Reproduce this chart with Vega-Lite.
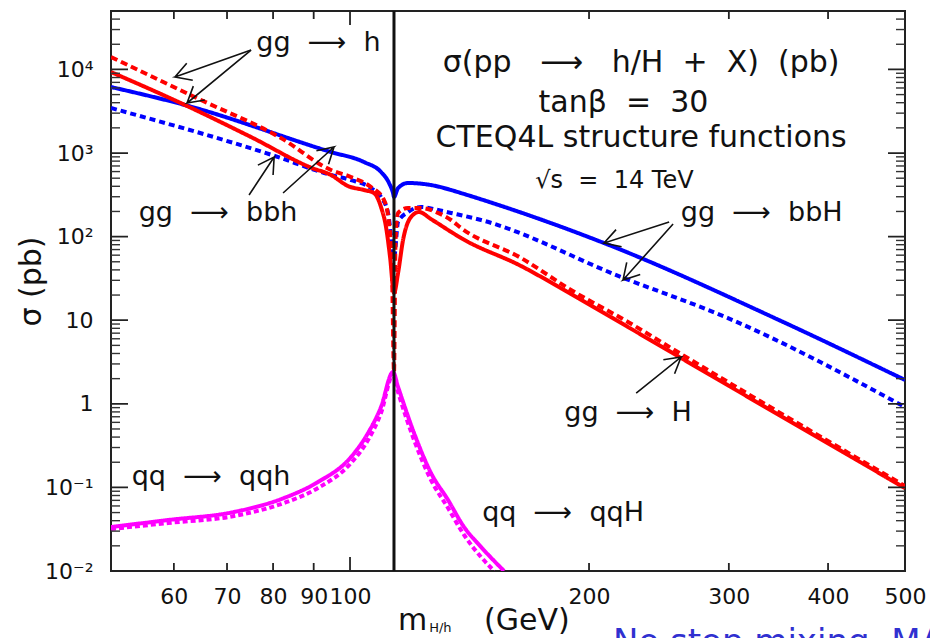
{
  "$schema": "https://vega.github.io/schema/vega-lite/v6.json",
  "width": 794,
  "height": 560,
  "autosize": "none",
  "padding": {"left": 111, "top": 11, "right": 25, "bottom": 67},
  "background": "white",
  "config": {
    "view": {"stroke": "#222", "strokeWidth": 2},
    "axis": {"domain": false, "grid": false, "ticks": false, "labelFont": "DejaVu Sans", "labelColor": "#111"}
  },
  "datasets": {
    "curves": [
      {"s": "a", "x": 50, "y": 3454}, {"s": "a", "x": 79.75, "y": 946}, {"s": "a", "x": 94.64, "y": 546}, {"s": "a", "x": 100.29, "y": 475}, {"s": "a", "x": 106.28, "y": 381}, {"s": "a", "x": 109.4, "y": 298}, {"s": "a", "x": 111.66, "y": 192}, {"s": "a", "x": 113.29, "y": 63.7}, {"s": "a", "x": 113.61, "y": 55.5}, {"s": "a", "x": 114.95, "y": 150}, {"s": "a", "x": 118.32, "y": 197}, {"s": "a", "x": 122.87, "y": 226}, {"s": "a", "x": 129.08, "y": 208}, {"s": "a", "x": 134.04, "y": 192}, {"s": "a", "x": 146.23, "y": 158}, {"s": "a", "x": 219.45, "y": 32.9}, {"s": "a", "x": 299.24, "y": 10.6}, {"s": "a", "x": 500, "y": 0.915},
      {"s": "b", "x": 50, "y": 6160}, {"s": "b", "x": 61.97, "y": 3752}, {"s": "b", "x": 94.64, "y": 1028}, {"s": "b", "x": 104.14, "y": 780}, {"s": "b", "x": 109.4, "y": 593}, {"s": "b", "x": 111.98, "y": 438}, {"s": "b", "x": 113.29, "y": 332}, {"s": "b", "x": 113.61, "y": 298}, {"s": "b", "x": 114.95, "y": 381}, {"s": "b", "x": 118.32, "y": 438}, {"s": "b", "x": 126.48, "y": 414}, {"s": "b", "x": 134.04, "y": 361}, {"s": "b", "x": 137.99, "y": 332}, {"s": "b", "x": 208.88, "y": 83.8}, {"s": "b", "x": 349.06, "y": 9.78}, {"s": "b", "x": 500, "y": 1.93},
      {"s": "c", "x": 50, "y": 14070}, {"s": "c", "x": 64.92, "y": 4306}, {"s": "c", "x": 81.86, "y": 1511}, {"s": "c", "x": 94.64, "y": 626}, {"s": "c", "x": 100.29, "y": 516}, {"s": "c", "x": 106.28, "y": 392}, {"s": "c", "x": 110.37, "y": 274}, {"s": "c", "x": 111.98, "y": 145}, {"s": "c", "x": 112.96, "y": 36.7}, {"s": "c", "x": 113.61, "y": 2.4}, {"s": "c", "x": 114.11, "y": 91}, {"s": "c", "x": 114.95, "y": 192}, {"s": "c", "x": 118.32, "y": 220}, {"s": "c", "x": 122.87, "y": 220}, {"s": "c", "x": 129.08, "y": 192}, {"s": "c", "x": 134.04, "y": 158}, {"s": "c", "x": 137.99, "y": 127}, {"s": "c", "x": 164.24, "y": 55.5}, {"s": "c", "x": 189.8, "y": 23.0}, {"s": "c", "x": 223.94, "y": 9.52}, {"s": "c", "x": 261.19, "y": 3.94}, {"s": "c", "x": 500, "y": 0.1039},
      {"s": "d", "x": 50, "y": 9310}, {"s": "d", "x": 61.97, "y": 3752}, {"s": "d", "x": 75.04, "y": 1554}, {"s": "d", "x": 89.57, "y": 662}, {"s": "d", "x": 94.64, "y": 546}, {"s": "d", "x": 99.42, "y": 403}, {"s": "d", "x": 104.14, "y": 361}, {"s": "d", "x": 107.21, "y": 332}, {"s": "d", "x": 109.4, "y": 226}, {"s": "d", "x": 111.01, "y": 130}, {"s": "d", "x": 112.31, "y": 57}, {"s": "d", "x": 113.61, "y": 21.2}, {"s": "d", "x": 114.95, "y": 36.7}, {"s": "d", "x": 116.62, "y": 91}, {"s": "d", "x": 119.36, "y": 172}, {"s": "d", "x": 122.16, "y": 197}, {"s": "d", "x": 126.48, "y": 162}, {"s": "d", "x": 134.04, "y": 114}, {"s": "d", "x": 137.99, "y": 96.2}, {"s": "d", "x": 164.24, "y": 44.5}, {"s": "d", "x": 189.8, "y": 20.6}, {"s": "d", "x": 223.94, "y": 8.29}, {"s": "d", "x": 261.19, "y": 3.53}, {"s": "d", "x": 500, "y": 0.0983},
      {"s": "e", "x": 50, "y": 0.0318}, {"s": "e", "x": 58.99, "y": 0.0375}, {"s": "e", "x": 71.43, "y": 0.0455}, {"s": "e", "x": 82.58, "y": 0.0651}, {"s": "e", "x": 91.13, "y": 0.0983}, {"s": "e", "x": 100.29, "y": 0.196}, {"s": "e", "x": 105.36, "y": 0.369}, {"s": "e", "x": 109.4, "y": 0.776}, {"s": "e", "x": 113.29, "y": 2.21}, {"s": "e", "x": 114.95, "y": 1.38}, {"s": "e", "x": 120.4, "y": 0.369}, {"s": "e", "x": 126.48, "y": 0.1226}, {"s": "e", "x": 132.88, "y": 0.0567}, {"s": "e", "x": 139.19, "y": 0.027}, {"s": "e", "x": 146.23, "y": 0.0147}, {"s": "e", "x": 151.85, "y": 0.01},
      {"s": "f", "x": 50, "y": 0.0336}, {"s": "f", "x": 58.99, "y": 0.0407}, {"s": "f", "x": 71.43, "y": 0.0508}, {"s": "f", "x": 82.58, "y": 0.0747}, {"s": "f", "x": 91.13, "y": 0.116}, {"s": "f", "x": 100.29, "y": 0.231}, {"s": "f", "x": 105.36, "y": 0.447}, {"s": "f", "x": 109.4, "y": 0.915}, {"s": "f", "x": 113.29, "y": 2.4}, {"s": "f", "x": 114.95, "y": 1.59}, {"s": "f", "x": 120.4, "y": 0.447}, {"s": "f", "x": 126.48, "y": 0.1487}, {"s": "f", "x": 132.88, "y": 0.0707}, {"s": "f", "x": 139.19, "y": 0.0336}, {"s": "f", "x": 146.23, "y": 0.0194}, {"s": "f", "x": 156.32, "y": 0.01}
    ],
    "arrows": [
      {"id": 1, "k": 0, "x": 75.05, "y": 17060}, {"id": 1, "k": 1, "x": 60.19, "y": 8110}, {"id": 1, "k": 2, "x": 63.38, "y": 7413}, {"id": 1, "k": 3, "x": 60.19, "y": 8110}, {"id": 1, "k": 4, "x": 62.28, "y": 11830},
      {"id": 2, "k": 0, "x": 75.05, "y": 17060}, {"id": 2, "k": 1, "x": 62.34, "y": 3963}, {"id": 2, "k": 2, "x": 65.64, "y": 4305}, {"id": 2, "k": 3, "x": 62.34, "y": 3963}, {"id": 2, "k": 4, "x": 63.48, "y": 6310},
      {"id": 3, "k": 0, "x": 74.62, "y": 314.6}, {"id": 3, "k": 1, "x": 80.25, "y": 895}, {"id": 3, "k": 2, "x": 76.56, "y": 716}, {"id": 3, "k": 3, "x": 80.25, "y": 895}, {"id": 3, "k": 4, "x": 80.0, "y": 545},
      {"id": 4, "k": 0, "x": 82.35, "y": 332.5}, {"id": 4, "k": 1, "x": 95.46, "y": 1180}, {"id": 4, "k": 2, "x": 90.72, "y": 1062}, {"id": 4, "k": 3, "x": 95.46, "y": 1180}, {"id": 4, "k": 4, "x": 93.96, "y": 736},
      {"id": 5, "k": 0, "x": 252.3, "y": 149.6}, {"id": 5, "k": 1, "x": 208.9, "y": 83.8}, {"id": 5, "k": 2, "x": 219.8, "y": 75.5}, {"id": 5, "k": 3, "x": 208.9, "y": 83.8}, {"id": 5, "k": 4, "x": 216.3, "y": 121.3},
      {"id": 6, "k": 0, "x": 255.2, "y": 141.5}, {"id": 6, "k": 1, "x": 220.7, "y": 30.27}, {"id": 6, "k": 2, "x": 232.0, "y": 35.3}, {"id": 6, "k": 3, "x": 220.7, "y": 30.27}, {"id": 6, "k": 4, "x": 223.1, "y": 49.1},
      {"id": 7, "k": 0, "x": 229.3, "y": 1.346}, {"id": 7, "k": 1, "x": 261.2, "y": 3.63}, {"id": 7, "k": 2, "x": 248.1, "y": 3.37}, {"id": 7, "k": 3, "x": 261.2, "y": 3.63}, {"id": 7, "k": 4, "x": 256.3, "y": 2.285}
    ],
    "ann": [
      {"t": "gg\u00a0 ⟶\u00a0 h", "x": 91.27, "y": 20700},
      {"t": "gg\u00a0 ⟶\u00a0 bbh", "x": 68.21, "y": 191.5},
      {"t": "gg\u00a0 ⟶\u00a0 bbH", "x": 330, "y": 191.5},
      {"t": "gg\u00a0 ⟶\u00a0 H", "x": 224, "y": 0.776},
      {"t": "qq\u00a0 ⟶\u00a0 qqh", "x": 66.83, "y": 0.1331},
      {"t": "qq\u00a0 ⟶\u00a0 qqH", "x": 185.5, "y": 0.04943}
    ],
    "info": [
      {"t": "σ(pp\u00a0\u00a0 ⟶\u00a0\u00a0 h/H\u00a0 +\u00a0 X)\u00a0 (pb)", "x": 232.6, "y": 11930},
      {"t": "tanβ\u00a0 =\u00a0 30", "x": 221.0, "y": 3963},
      {"t": "CTEQ4L structure functions", "x": 232.6, "y": 1510}
    ],
    "ymaj": [{"v": 0.01}, {"v": 0.1}, {"v": 1}, {"v": 10}, {"v": 100}, {"v": 1000}, {"v": 10000}],
    "ymin": [{"v": 0.02}, {"v": 0.03}, {"v": 0.04}, {"v": 0.05}, {"v": 0.06}, {"v": 0.07}, {"v": 0.08}, {"v": 0.09}, {"v": 0.2}, {"v": 0.3}, {"v": 0.4}, {"v": 0.5}, {"v": 0.6}, {"v": 0.7}, {"v": 0.8}, {"v": 0.9}, {"v": 2}, {"v": 3}, {"v": 4}, {"v": 5}, {"v": 6}, {"v": 7}, {"v": 8}, {"v": 9}, {"v": 20}, {"v": 30}, {"v": 40}, {"v": 50}, {"v": 60}, {"v": 70}, {"v": 80}, {"v": 90}, {"v": 200}, {"v": 300}, {"v": 400}, {"v": 500}, {"v": 600}, {"v": 700}, {"v": 800}, {"v": 900}, {"v": 2000}, {"v": 3000}, {"v": 4000}, {"v": 5000}, {"v": 6000}, {"v": 7000}, {"v": 8000}, {"v": 9000}, {"v": 20000}, {"v": 30000}, {"v": 40000}],
    "xshort": [{"v": 60}, {"v": 70}, {"v": 80}, {"v": 90}, {"v": 200}, {"v": 300}, {"v": 400}],
    "xlong": [{"v": 100}]
  },
  "layer": [
    {
      "data": {"name": "curves"},
      "mark": {"type": "line", "strokeWidth": 4, "clip": true, "interpolate": "monotone"},
      "encoding": {
        "x": {"field": "x", "type": "quantitative", "scale": {"type": "log", "domain": [50, 500]},
          "axis": {"orient": "bottom", "values": [60, 70, 80, 90, 100, 200, 300, 400, 500], "ticks": false, "labelPadding": 15, "labelFontSize": 22, "labelOverlap": false, "labelFlush": false, "title": null}},
        "y": {"field": "y", "type": "quantitative", "scale": {"type": "log", "domain": [0.01, 50000]},
          "axis": {"orient": "left", "values": [0.01, 0.1, 1, 10, 100, 1000, 10000], "ticks": false, "labelPadding": 18, "labelFontSize": 22, "labelFlush": false, "labelOverlap": false,
            "labelExpr": "datum.value > 5000 ? '10⁴' : datum.value > 500 ? '10³' : datum.value > 50 ? '10²' : datum.value > 5 ? '10' : datum.value > 0.5 ? '1' : datum.value > 0.05 ? '10⁻¹' : '10⁻²'",
            "title": "σ (pb)", "titleFont": "DejaVu Sans", "titleFontSize": 30, "titleFontWeight": "normal", "titleColor": "#111", "titleX": -80, "titleY": 270, "titleAngle": 270, "titleAlign": "center", "titleBaseline": "middle"}},
        "color": {"field": "s", "type": "nominal", "scale": {"domain": ["a", "b", "c", "d", "e", "f"], "range": ["#0000ff", "#0000ff", "#ff0000", "#ff0000", "#ff00ff", "#ff00ff"]}, "legend": null},
        "strokeDash": {"field": "s", "type": "nominal", "scale": {"domain": ["a", "b", "c", "d", "e", "f"], "range": [[6, 4], [1, 0], [7, 4], [1, 0], [5, 3], [1, 0]]}, "legend": null}
      }
    },
    {
      "data": {"name": "ymaj"},
      "mark": {"type": "tick", "orient": "horizontal", "size": 34, "thickness": 1.8, "color": "#222", "opacity": 1, "clip": true},
      "encoding": {
        "y": {"field": "v", "type": "quantitative", "scale": {"type": "log", "domain": [0.01, 50000]}},
        "x": {"datum": 50, "type": "quantitative", "scale": {"type": "log", "domain": [50, 500]}}
      }
    },
    {
      "data": {"name": "ymaj"},
      "mark": {"type": "tick", "orient": "horizontal", "size": 34, "thickness": 1.8, "color": "#222", "opacity": 1, "clip": true},
      "encoding": {
        "y": {"field": "v", "type": "quantitative", "scale": {"type": "log", "domain": [0.01, 50000]}},
        "x": {"datum": 500, "type": "quantitative", "scale": {"type": "log", "domain": [50, 500]}}
      }
    },
    {
      "data": {"name": "ymin"},
      "mark": {"type": "tick", "orient": "horizontal", "size": 18, "thickness": 1.4, "color": "#333", "opacity": 1, "clip": true},
      "encoding": {
        "y": {"field": "v", "type": "quantitative", "scale": {"type": "log", "domain": [0.01, 50000]}},
        "x": {"datum": 50, "type": "quantitative", "scale": {"type": "log", "domain": [50, 500]}}
      }
    },
    {
      "data": {"name": "ymin"},
      "mark": {"type": "tick", "orient": "horizontal", "size": 18, "thickness": 1.4, "color": "#333", "opacity": 1, "clip": true},
      "encoding": {
        "y": {"field": "v", "type": "quantitative", "scale": {"type": "log", "domain": [0.01, 50000]}},
        "x": {"datum": 500, "type": "quantitative", "scale": {"type": "log", "domain": [50, 500]}}
      }
    },
    {
      "data": {"name": "xshort"},
      "mark": {"type": "tick", "orient": "vertical", "size": 16, "thickness": 1.8, "color": "#222", "opacity": 1, "clip": true},
      "encoding": {
        "x": {"field": "v", "type": "quantitative", "scale": {"type": "log", "domain": [50, 500]}},
        "y": {"datum": 0.01, "type": "quantitative", "scale": {"type": "log", "domain": [0.01, 50000]}}
      }
    },
    {
      "data": {"name": "xshort"},
      "mark": {"type": "tick", "orient": "vertical", "size": 16, "thickness": 1.8, "color": "#222", "opacity": 1, "clip": true},
      "encoding": {
        "x": {"field": "v", "type": "quantitative", "scale": {"type": "log", "domain": [50, 500]}},
        "y": {"datum": 50000, "type": "quantitative", "scale": {"type": "log", "domain": [0.01, 50000]}}
      }
    },
    {
      "data": {"name": "xlong"},
      "mark": {"type": "tick", "orient": "vertical", "size": 28, "thickness": 1.8, "color": "#222", "opacity": 1, "clip": true},
      "encoding": {
        "x": {"field": "v", "type": "quantitative", "scale": {"type": "log", "domain": [50, 500]}},
        "y": {"datum": 0.01, "type": "quantitative", "scale": {"type": "log", "domain": [0.01, 50000]}}
      }
    },
    {
      "data": {"name": "xlong"},
      "mark": {"type": "tick", "orient": "vertical", "size": 28, "thickness": 1.8, "color": "#222", "opacity": 1, "clip": true},
      "encoding": {
        "x": {"field": "v", "type": "quantitative", "scale": {"type": "log", "domain": [50, 500]}},
        "y": {"datum": 50000, "type": "quantitative", "scale": {"type": "log", "domain": [0.01, 50000]}}
      }
    },
    {
      "data": {"values": [{"x": 113.6}]},
      "mark": {"type": "rule", "strokeWidth": 3, "color": "#111"},
      "encoding": {
        "x": {"field": "x", "type": "quantitative", "scale": {"type": "log", "domain": [50, 500]}}
      }
    },
    {
      "data": {"name": "ann"},
      "mark": {"type": "text", "font": "DejaVu Sans", "fontSize": 27, "color": "#111", "align": "center", "baseline": "middle"},
      "encoding": {
        "x": {"field": "x", "type": "quantitative", "scale": {"type": "log", "domain": [50, 500]}},
        "y": {"field": "y", "type": "quantitative", "scale": {"type": "log", "domain": [0.01, 50000]}},
        "text": {"field": "t"}
      }
    },
    {
      "data": {"name": "arrows"},
      "mark": {"type": "line", "strokeWidth": 1.6, "color": "#111"},
      "encoding": {
        "x": {"field": "x", "type": "quantitative", "scale": {"type": "log", "domain": [50, 500]}},
        "y": {"field": "y", "type": "quantitative", "scale": {"type": "log", "domain": [0.01, 50000]}},
        "detail": {"field": "id"},
        "order": {"field": "k"}
      }
    },
    {
      "data": {"name": "info"},
      "mark": {"type": "text", "font": "DejaVu Sans", "fontSize": 30, "color": "#111", "align": "center", "baseline": "middle"},
      "encoding": {
        "x": {"field": "x", "type": "quantitative", "scale": {"type": "log", "domain": [50, 500]}},
        "y": {"field": "y", "type": "quantitative", "scale": {"type": "log", "domain": [0.01, 50000]}},
        "text": {"field": "t"}
      }
    },
    {
      "data": {"values": [{"t": "√s\u00a0 =\u00a0 14 TeV", "x": 215.3, "y": 462}]},
      "mark": {"type": "text", "font": "DejaVu Sans", "fontSize": 24, "color": "#111", "align": "center", "baseline": "middle"},
      "encoding": {
        "x": {"field": "x", "type": "quantitative", "scale": {"type": "log", "domain": [50, 500]}},
        "y": {"field": "y", "type": "quantitative", "scale": {"type": "log", "domain": [0.01, 50000]}},
        "text": {"field": "t"}
      }
    },
    {
      "data": {"values": [{"t": "m", "x": 114.95, "y": 0.001969}, {"t": "(GeV)", "x": 147.53, "y": 0.001969}]},
      "mark": {"type": "text", "font": "DejaVu Sans", "fontSize": 30, "color": "#111", "align": "left", "baseline": "alphabetic"},
      "encoding": {
        "x": {"field": "x", "type": "quantitative", "scale": {"type": "log", "domain": [50, 500]}},
        "y": {"field": "y", "type": "quantitative", "scale": {"type": "log", "domain": [0.01, 50000]}},
        "text": {"field": "t"}
      }
    },
    {
      "data": {"values": [{"t": "H/h", "x": 125.8, "y": 0.001864}]},
      "mark": {"type": "text", "font": "DejaVu Sans", "fontSize": 13, "color": "#111", "align": "left", "baseline": "alphabetic"},
      "encoding": {
        "x": {"field": "x", "type": "quantitative", "scale": {"type": "log", "domain": [50, 500]}},
        "y": {"field": "y", "type": "quantitative", "scale": {"type": "log", "domain": [0.01, 50000]}},
        "text": {"field": "t"}
      }
    },
    {
      "data": {"values": [{"t": "No stop mixing, MA", "x": 214.4, "y": 0.0022}]},
      "mark": {"type": "text", "font": "DejaVu Sans", "fontSize": 34, "color": "#3030d0", "align": "left", "baseline": "top"},
      "encoding": {
        "x": {"field": "x", "type": "quantitative", "scale": {"type": "log", "domain": [50, 500]}},
        "y": {"field": "y", "type": "quantitative", "scale": {"type": "log", "domain": [0.01, 50000]}},
        "text": {"field": "t"}
      }
    }
  ]
}
